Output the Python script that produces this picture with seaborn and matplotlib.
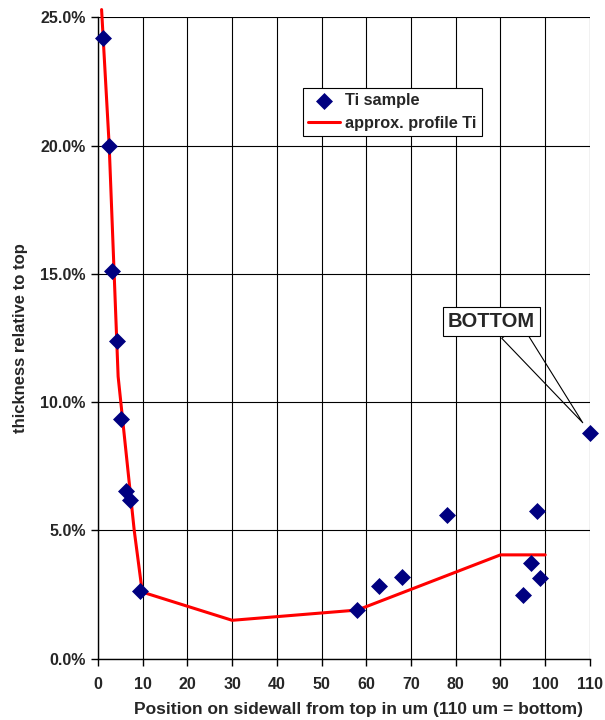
import numpy as np
import pandas as pd
import matplotlib.pyplot as plt
import seaborn as sns
from matplotlib.ticker import PercentFormatter

# Ti samples (position in um, thickness relative to top in %)
sample_pos = [1.1, 2.4, 3.1, 4.2, 5.1, 6.3, 7.2, 9.4, 58.0, 62.8, 67.9, 78.0, 95.0, 96.9, 98.2, 98.9, 110.0]
sample_thk = [24.2, 20.0, 15.1, 12.4, 9.35, 6.55, 6.2, 2.65, 1.9, 2.85, 3.2, 5.6, 2.5, 3.75, 5.75, 3.15, 8.8]

# approximate profile
profile_pos = [0.8, 2.5, 4.5, 8.1, 9.9, 30.0, 58.0, 90.0, 100.0]
profile_thk = [25.3, 20.0, 11.0, 5.0, 2.6, 1.5, 1.9, 4.05, 4.05]

x_ticks = list(range(0, 111, 10))
y_ticks = [0, 5, 10, 15, 20, 25]

df_s = pd.DataFrame({"pos": sample_pos, "thk": sample_thk})
df_p = pd.DataFrame({"pos": profile_pos, "thk": profile_thk})

sns.set_theme(style="white")
plt.rcParams["font.family"] = ["Liberation Sans", "DejaVu Sans"]

fig = plt.figure(figsize=(6.05, 7.2), dpi=100)
ax = fig.add_axes([0.162, 0.085, 0.813, 0.891])

sns.lineplot(data=df_p, x="pos", y="thk", sort=False, color="#ff0000", lw=2.2,
             ax=ax, label="approx. profile Ti", clip_on=False, zorder=3)
sns.scatterplot(data=df_s, x="pos", y="thk", marker="D", s=75, color="#000080",
                edgecolor="#000080", linewidth=0, ax=ax, label="Ti sample", zorder=4, clip_on=False)

ax.set_xlim(0, 110)
ax.set_ylim(0, 25)
ax.set_xticks(x_ticks)
ax.set_yticks(y_ticks)
ax.yaxis.set_major_formatter(PercentFormatter(decimals=1))
ax.grid(True, color="#000000", lw=0.8)
ax.set_axisbelow(True)
for s in ["top", "right"]:
    ax.spines[s].set_visible(False)
for s in ["left", "bottom"]:
    ax.spines[s].set_color("black")
    ax.spines[s].set_linewidth(1.0)
ax.tick_params(axis="both", direction="out", length=5, width=1, color="black",
               labelsize=11.5, bottom=True, left=True, pad=4)
ax.tick_params(axis="x", pad=8)
for lbl in ax.get_xticklabels() + ax.get_yticklabels():
    lbl.set_fontweight("bold")

ax.set_xlabel("Position on sidewall from top in um (110 um = bottom)", fontsize=12.5,
              fontweight="bold", labelpad=11)
ax.xaxis.set_label_coords(0.53, -0.068)
ax.set_ylabel("thickness relative to top", fontsize=12, fontweight="bold",
              family=["Liberation Sans Narrow", "Liberation Sans"], labelpad=9)

# legend: samples first, then line
h, l = ax.get_legend_handles_labels()
order = [l.index("Ti sample"), l.index("approx. profile Ti")]
leg = ax.legend([h[i] for i in order], [l[i] for i in order], loc="upper left",
                bbox_to_anchor=(0.417, 0.889), frameon=True, fancybox=False,
                edgecolor="black", framealpha=1, prop={"weight": "bold", "size": 11.7},
                handlelength=2.0, handletextpad=0.3, borderpad=0.3, labelspacing=0.45,
                borderaxespad=0)
leg.get_frame().set_linewidth(0.8)

ax.annotate("BOTTOM", xy=(108.4, 9.2), xytext=(78.2, 13.15),
            fontsize=14.5, fontweight="bold", ha="left", va="center",
            bbox=dict(boxstyle="square,pad=0.25", fc="white", ec="black", lw=0.8),
            arrowprops=dict(arrowstyle="wedge,tail_width=1.2", fc="none", ec="black",
                            lw=0.8, relpos=(0.73, 0.0), patchA=None, shrinkA=0, shrinkB=0))

plt.savefig("out.png", dpi=100)
plt.close()
